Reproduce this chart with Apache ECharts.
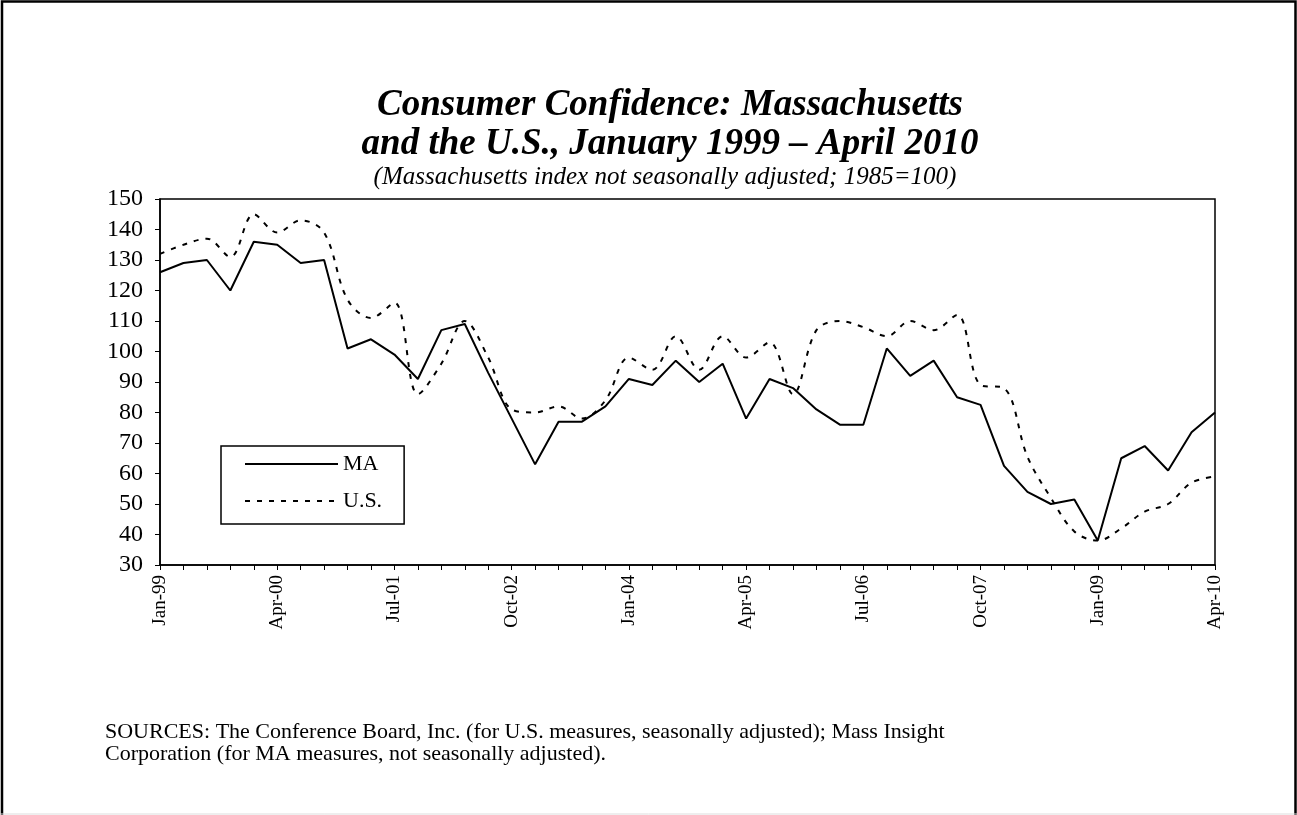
<!DOCTYPE html>
<html>
<head>
<meta charset="utf-8">
<script src="https://cdn.jsdelivr.net/npm/echarts@6/dist/echarts.min.js"></script>
<style>
  html, body { margin: 0; padding: 0; background: #fff; }
  #chart { width: 1297px; height: 815px; }
</style>
</head>
<body>
<div id="chart"></div>
<script>
// quarterly points, Jan-99 .. Apr-10
var quarters = [
  'Jan-99', 'Apr-99', 'Jul-99', 'Oct-99',
  'Jan-00', 'Apr-00', 'Jul-00', 'Oct-00',
  'Jan-01', 'Apr-01', 'Jul-01', 'Oct-01',
  'Jan-02', 'Apr-02', 'Jul-02', 'Oct-02',
  'Jan-03', 'Apr-03', 'Jul-03', 'Oct-03',
  'Jan-04', 'Apr-04', 'Jul-04', 'Oct-04',
  'Jan-05', 'Apr-05', 'Jul-05', 'Oct-05',
  'Jan-06', 'Apr-06', 'Jul-06', 'Oct-06',
  'Jan-07', 'Apr-07', 'Jul-07', 'Oct-07',
  'Jan-08', 'Apr-08', 'Jul-08', 'Oct-08',
  'Jan-09', 'Apr-09', 'Jul-09', 'Oct-09',
  'Jan-10', 'Apr-10'
]

var maValues = [
  126, 129, 130, 120,
  136, 135, 129, 130,
  101, 104, 99, 91,
  107, 109, 93, 78,
  63, 77, 77, 82,
  91, 89, 97, 90,
  96, 78, 91, 88,
  81, 76, 76, 101,
  92, 97, 85, 82.5,
  62.5, 54, 50, 51.5,
  38, 65, 69, 61,
  73.5, 80
]

var usValues = [
  132, 135, 137, 131,
  145, 139, 143, 139,
  117, 111, 116, 86,
  96, 110, 98, 81,
  80, 82, 78, 84,
  98, 94, 105, 94,
  105, 98, 103, 86,
  107, 110, 108, 105,
  110, 107, 112, 89,
  88, 65.5, 52, 41,
  38, 42, 47.5, 50,
  57, 59
]

var yTicks = { min: 30, max: 150, step: 10 }

var serif = '"Liberation Serif", "Times New Roman", serif'

var chart = echarts.init(document.getElementById('chart'))

var option = {
  animation: false,
  backgroundColor: '#fff',
  title: [
    {
      text: 'Consumer Confidence: Massachusetts\nand the U.S., January 1999 \u2013 April 2010',
      left: 665,
      textAlign: 'center',
      top: 81,
      textStyle: {
        fontFamily: serif,
        fontSize: 37,
        fontWeight: 'bold',
        fontStyle: 'italic',
        color: '#000',
        lineHeight: 39
      }
    },
    {
      text: '(Massachusetts index not seasonally adjusted; 1985=100)',
      left: 660,
      textAlign: 'center',
      top: 159,
      textStyle: {
        fontFamily: serif,
        fontSize: 25,
        fontWeight: 'normal',
        fontStyle: 'italic',
        color: '#000',
        lineHeight: 26
      }
    },
    {
      text: 'SOURCES: The Conference Board, Inc. (for U.S. measures, seasonally adjusted); Mass Insight\nCorporation (for MA measures, not seasonally adjusted).',
      left: 100,
      top: 716,
      textStyle: {
        fontFamily: serif,
        fontSize: 22,
        fontWeight: 'normal',
        color: '#000',
        lineHeight: 22
      }
    }
  ],
  legend: {
    orient: 'vertical',
    left: 221,
    top: 446,
    data: ['MA', 'U.S.'],
    itemWidth: 93,
    itemHeight: 14,
    itemGap: 15,
    padding: [7, 22, 12, 23],
    borderColor: '#000',
    borderWidth: 1.5,
    itemStyle: { color: 'rgba(0,0,0,0)', borderWidth: 0, opacity: 0 },
    textStyle: {
      fontFamily: serif,
      fontSize: 22,
      color: '#000',
      lineHeight: 20
    }
  },
  grid: {
    left: 160,
    right: 82,
    top: 199,
    bottom: 250,
    show: true,
    borderColor: '#000',
    borderWidth: 1.5,
    backgroundColor: 'transparent'
  },
  xAxis: {
    type: 'category',
    data: quarters,
    boundaryGap: false,
    axisLine: { lineStyle: { color: '#000', width: 1.5 } },
    axisTick: { interval: 0, length: 5, lineStyle: { color: '#000' } },
    axisLabel: {
      interval: 4,
      rotate: 90,
      margin: 10,
      fontFamily: serif,
      fontSize: 19,
      color: '#000'
    },
    splitLine: { show: false }
  },
  yAxis: {
    type: 'value',
    min: yTicks.min,
    max: yTicks.max,
    interval: yTicks.step,
    axisLine: { show: true, lineStyle: { color: '#000', width: 1.5 } },
    axisTick: { show: true, length: 5, lineStyle: { color: '#000' } },
    axisLabel: {
      margin: 17,
      fontFamily: serif,
      fontSize: 24,
      color: '#000'
    },
    splitLine: { show: false }
  },
  series: [
    {
      name: 'MA',
      type: 'line',
      data: maValues,
      symbol: 'none',
      itemStyle: { color: '#000' },
      lineStyle: { color: '#000', width: 2 }
    },
    {
      name: 'U.S.',
      type: 'line',
      data: usValues,
      symbol: 'none',
      smooth: 0.35,
      itemStyle: { color: '#000' },
      lineStyle: { color: '#000', width: 2, type: [5, 7] }
    }
  ],
  graphic: [
    {
      type: 'polyline',
      silent: true,
      shape: { points: [[2, 815], [2, 1.5], [1295.5, 1.5], [1295.5, 815]] },
      style: { stroke: '#000', lineWidth: 2.5, fill: null }
    },
    {
      type: 'line',
      silent: true,
      shape: { x1: 0, y1: 814, x2: 1297, y2: 814 },
      style: { stroke: '#ddd', lineWidth: 1 }
    }
  ]
}

chart.setOption(option)
</script>
</body>
</html>
